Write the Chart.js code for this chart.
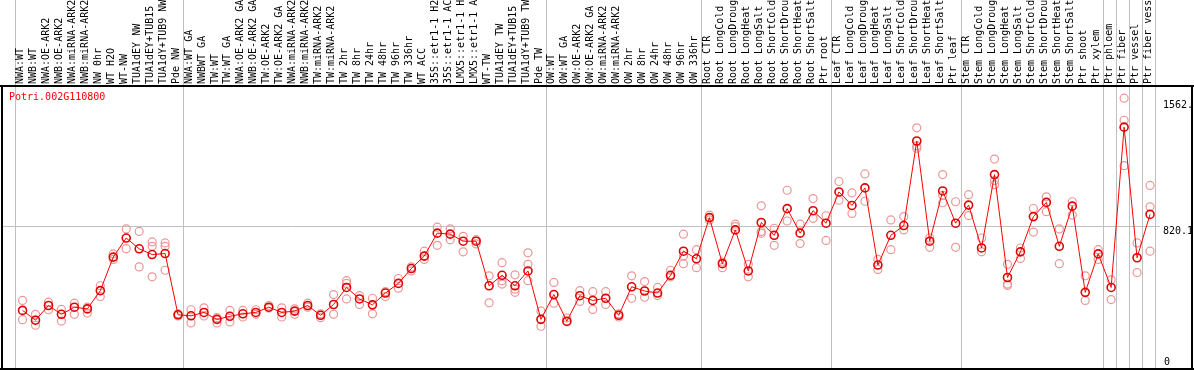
<!DOCTYPE html>
<html>
<head>
<meta charset="utf-8">
<script src="https://cdn.jsdelivr.net/npm/chart.js@4/dist/chart.umd.min.js"></script>
<style>
  html, body { margin: 0; padding: 0; background: #fff; }
  #chart { display: block; }
</style>
</head>
<body>
<canvas id="chart" width="1194" height="370"></canvas>
<script>
const geneId = 'Potri.002G110800';

const labels = [
  'NWA:WT', 'NWB:WT', 'NWA:OE-ARK2', 'NWB:OE-ARK2', 'NWA:miRNA-ARK2', 'NWB:miRNA-ARK2', 'NW 0hr', 'WT H2O', 'WT-NW',
  'TUA1dEY NW', 'TUA1dEY+TUB15 NW', 'TUA1dY+TUB9 NW', 'Pde NW',
  'NWA:WT GA', 'NWBWT GA', 'TW:WT', 'TW:WT GA', 'NWA:OE-ARK2 GA', 'NWB:OE-ARK2 GA', 'TW:OE-ARK2', 'TW:OE-ARK2 GA',
  'NWA:miRNA-ARK2 GA', 'NWB:miRNA-ARK2 GA', 'TW:miRNA-ARK2', 'TW:miRNA-ARK2 GA', 'TW 2hr', 'TW 8hr', 'TW 24hr', 'TW 48hr',
  'TW 96hr', 'TW 336hr', 'WT ACC', '35S::etr1-1 H2O', '35S::etr1-1 ACC', 'LMX5::etr1-1 H2O', 'LMX5::etr1-1 ACC',
  'WT-TW', 'TUA1dEY TW', 'TUA1dEY+TUB15 TW', 'TUA1dY+TUB9 TW', 'Pde TW',
  'OW:WT', 'OW:WT GA', 'OW:OE-ARK2', 'OW:OE-ARK2 GA', 'OW:miRNA-ARK2', 'OW:miRNA-ARK2 GA', 'OW 2hr', 'OW 8hr',
  'OW 24hr', 'OW 48hr', 'OW 96hr', 'OW 336hr',
  'Root CTR', 'Root LongCold', 'Root LongDrought', 'Root LongHeat', 'Root LongSalt', 'Root ShortCold',
  'Root ShortDrought', 'Root ShortHeat', 'Root ShortSalt', 'Ptr root',
  'Leaf CTR', 'Leaf LongCold', 'Leaf LongDrought', 'Leaf LongHeat', 'Leaf LongSalt', 'Leaf ShortCold',
  'Leaf ShortDrought', 'Leaf ShortHeat', 'Leaf ShortSalt', 'Ptr leaf',
  'Stem CTR', 'Stem LongCold', 'Stem LongDrought', 'Stem LongHeat', 'Stem LongSalt', 'Stem ShortCold',
  'Stem ShortDrought', 'Stem ShortHeat', 'Stem ShortSalt', 'Ptr shoot', 'Ptr xylem',
  'Ptr phloem', 'Ptr fiber', 'Ptr vessel', 'Ptr fiber vessel'
];

// index of first column of each group (last entry = end)
const groupStarts = [0, 13, 41, 53, 63, 73, 84, 85, 86, 87, 88];

const means = [
  320, 262, 349, 297, 339, 329, 437, 636, 749, 685, 651, 657, 294,
  288, 308, 267, 285, 300, 308, 339, 308, 316, 349, 291, 355, 456, 388, 353, 423,
  480, 568, 642, 778, 772, 730, 730, 466, 528, 466, 554, 267,
  414, 256, 407, 379, 392, 291, 460, 435, 423, 528, 671, 626,
  870, 597, 797, 554, 841, 765, 923, 778, 911, 837,
  1022, 942, 1046, 589, 765, 823, 1324, 730, 1028, 837,
  944, 690, 1125, 515, 667, 876, 960, 700, 938, 427, 655,
  456, 1406, 632, 889
];

const rep1 = [
  379, 297, 369, 326, 363, 339, 466, 655, 803, 788, 726, 720, 300,
  324, 335, 277, 320, 320, 324, 349, 335, 329, 363, 300, 414, 496, 408, 392, 431,
  509, 578, 671, 813, 803, 759, 739, 525, 603, 531, 661, 316,
  486, 275, 437, 431, 431, 300, 525, 491, 456, 558, 772, 680,
  885, 607, 831, 593, 940, 807, 1032, 831, 983, 881,
  1084, 1016, 1129, 622, 856, 876, 1402, 749, 1125, 964,
  1006, 749, 1217, 593, 690, 924, 993, 803, 964, 525, 680,
  501, 1578, 720, 1061
];

const rep2 = [
  265, 232, 324, 257, 297, 304, 402, 622, 686, 578, 700, 700, 287,
  246, 287, 246, 252, 281, 297, 334, 281, 297, 339, 277, 297, 480, 355, 300, 402,
  452, 554, 622, 706, 739, 667, 714, 365, 496, 446, 593, 226,
  363, 252, 373, 326, 355, 281, 392, 398, 408, 519, 642, 573,
  856, 573, 817, 519, 788, 706, 850, 716, 866, 735,
  973, 895, 967, 563, 680, 797, 1295, 694, 1002, 694,
  882, 667, 1090, 476, 628, 784, 905, 597, 885, 379, 622,
  384, 1447, 544, 934
];

const rep3 = [
  null, 263, null, null, null, null, null, null, null, null, 519, 558, null,
  null, null, null, null, null, null, null, null, null, null, null, null, 388, null, null, null,
  null, null, null, null, null, null, null, null, 476, 427, 496, null,
  null, null, null, null, null, null, null, null, null, null, 597, null,
  null, null, null, null, 778, null, null, null, null, null,
  null, null, null, null, null, null, 1281, null, 958, null,
  null, null, 1065, 468, null, null, null, null, null, null, null,
  null, 1178, null, 671
];

const yTicks = [0, 820.1, 1562];
const yTickText = ['0', '820.1', '1562.'];

const toPoints = (arr) => arr.map((v, i) => ({ x: i, y: v }));

// column geometry: 13 px per column, point sits 8 px right of the column's left line
const colW = 13;
const pointInCol = 8 / colW;
const plotLeft = 2, plotRight = 1160, plotTop = 86, plotBottom = 368;
const firstPointPx = 19;

const framePlugin = {
  id: 'frame',
  beforeDatasetsDraw(chart) {
    const ctx = chart.ctx;
    const xs = chart.scales.x, ys = chart.scales.y;
    ctx.save();
    ctx.strokeStyle = '#c0c0c0';
    ctx.lineWidth = 1;
    // group separators
    groupStarts.forEach((g) => {
      const px = Math.round(xs.getPixelForValue(g - pointInCol)) + 0.5;
      ctx.beginPath();
      ctx.moveTo(px, 0);
      ctx.lineTo(px, plotBottom);
      ctx.stroke();
    });
    // middle value line
    const my = Math.round(ys.getPixelForValue(yTicks[1])) + 0.5;
    ctx.beginPath();
    ctx.moveTo(plotLeft, my);
    ctx.lineTo(plotRight, my);
    ctx.stroke();

    // black frame
    ctx.strokeStyle = '#000';
    ctx.lineWidth = 2;
    ctx.beginPath();
    ctx.moveTo(0, plotTop);
    ctx.lineTo(1194, plotTop);
    ctx.moveTo(plotLeft, plotTop);
    ctx.lineTo(plotLeft, plotBottom + 1);
    ctx.moveTo(0, plotBottom + 1);
    ctx.lineTo(1194, plotBottom + 1);
    ctx.moveTo(1192, plotTop);
    ctx.lineTo(1192, plotBottom + 1);
    ctx.stroke();
    ctx.restore();
  },
  afterDraw(chart) {
    const ctx = chart.ctx;
    const xs = chart.scales.x, ys = chart.scales.y;
    ctx.save();
    ctx.font = '10px "DejaVu Sans Mono", monospace';
    ctx.fillStyle = '#000';
    // rotated column labels
    labels.forEach((lab, i) => {
      const px = xs.getPixelForValue(i) - 2;
      ctx.save();
      ctx.translate(px, plotTop - 2);
      ctx.rotate(-Math.PI / 2);
      ctx.textAlign = 'left';
      ctx.textBaseline = 'middle';
      ctx.fillText(lab, 0, 0);
      ctx.restore();
    });
    // right side value labels
    ctx.textAlign = 'left';
    yTicks.forEach((t, i) => {
      const py = ys.getPixelForValue(t);
      if (t === 0) {
        ctx.textBaseline = 'bottom';
        ctx.fillText(yTickText[i], 1164, plotBottom - 1);
      } else {
        ctx.textBaseline = 'top';
        ctx.fillText(yTickText[i], 1163, py);
      }
    });
    // gene id
    ctx.fillStyle = '#ff0000';
    ctx.textBaseline = 'middle';
    ctx.fillText(geneId, 9, 97);
    ctx.restore();
  }
};

const repStyle = {
  showLine: false,
  pointRadius: 4,
  pointBorderWidth: 1.2,
  pointBorderColor: 'rgb(236, 150, 150)',
  pointBackgroundColor: 'rgba(0,0,0,0)'
};

const config = {
  type: 'line',
  data: {
    datasets: [
      {
        label: 'mean',
        data: toPoints(means),
        borderColor: '#ff0000',
        borderWidth: 1,
        pointRadius: 4,
        pointBorderWidth: 1.6,
        pointBorderColor: '#e00000',
        pointBackgroundColor: 'rgba(0,0,0,0)',
        tension: 0
      },
      Object.assign({ label: 'rep1', data: toPoints(rep1) }, repStyle),
      Object.assign({ label: 'rep2', data: toPoints(rep2) }, repStyle),
      Object.assign({ label: 'rep3', data: toPoints(rep3) }, repStyle)
    ]
  },
  options: {
    responsive: false,
    animation: false,
    events: [],
    layout: { padding: { left: plotLeft, right: 1194 - plotRight, top: plotTop, bottom: 370 - plotBottom } },
    plugins: { legend: { display: false }, tooltip: { enabled: false } },
    scales: {
      x: {
        type: 'linear',
        display: false,
        min: (plotLeft - firstPointPx) / colW,
        max: (plotRight - firstPointPx) / colW
      },
      y: {
        display: false,
        min: 0,
        max: 1650
      }
    }
  },
  plugins: [framePlugin]
};

new Chart(document.getElementById('chart'), config);
</script>
</body>
</html>
